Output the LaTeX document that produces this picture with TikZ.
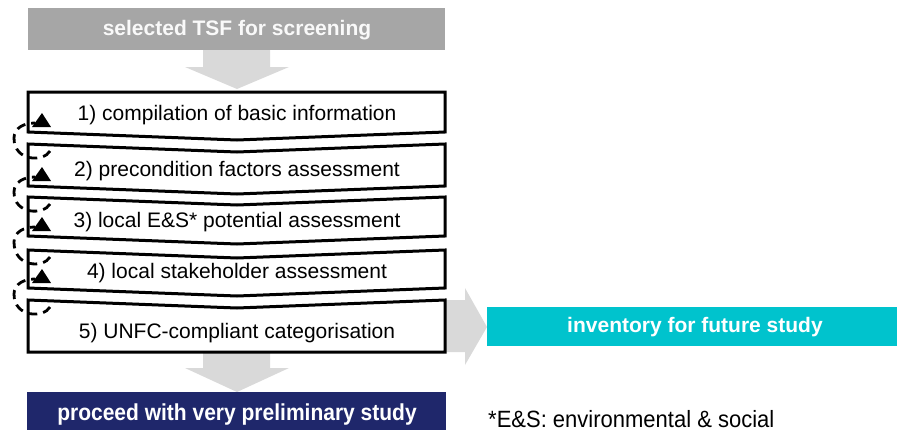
\documentclass[tikz,border=0pt]{standalone}
\usepackage{fontspec}
\setmainfont{Liberation Sans}
\definecolor{topgray}{HTML}{A6A6A6}
\definecolor{arrowgray}{HTML}{D9D9D9}
\definecolor{tealbox}{HTML}{00C3CD}
\definecolor{navybox}{HTML}{1F276B}
\tikzset{
  chev/.style={draw=black, line width=3pt, fill=white, line join=miter},
  steptext/.style={anchor=base, inner sep=0pt, font=\fontsize{21}{25}\selectfont},
  headtext/.style={anchor=base, inner sep=0pt, text=white, font=\fontsize{21}{25}\selectfont\bfseries},
  loopline/.style={line width=2.8pt, dash pattern=on 9pt off 6pt},
  bigarrow/.style={fill=arrowgray, draw=none},
}
\begin{document}
\begin{tikzpicture}[x=1pt,y=-1pt]
\useasboundingbox (0,0) rectangle (897,432);
% top box
\fill[topgray] (28,8) rectangle (445,50);
\node[headtext, text=white!95!gray] (top) at (237,35) {selected TSF for screening};
% grey block arrows
\fill[bigarrow] (203,50) -- (270,50) -- (270,67) -- (289,67) -- (237,89) -- (185,67) -- (203,67) -- cycle;
\fill[bigarrow] (440,300) -- (465,300) -- (465,288) -- (487,327) -- (465,365) -- (465,352) -- (440,352) -- cycle;
\fill[bigarrow] (203,352) -- (270,352) -- (270,368) -- (289,368) -- (237,392) -- (185,368) -- (203,368) -- cycle;
% chevron steps
\draw[chev] (28,92) -- (445,92) -- (445,132) -- (237,140) -- (28,132) -- cycle;
\draw[chev] (28,144) -- (237,152) -- (445,144) -- (445,186) -- (237,194) -- (28,186) -- cycle;
\draw[chev] (28,197) -- (237,205) -- (445,197) -- (445,236) -- (237,244) -- (28,236) -- cycle;
\draw[chev] (28,250) -- (237,258) -- (445,250) -- (445,288) -- (237,296) -- (28,288) -- cycle;
\draw[chev] (28,300) -- (237,308) -- (445,300) -- (445,352) -- (28,352) -- cycle;
\node[steptext] (s1) at (237,120) {1) compilation of basic information};
\node[steptext] (s2) at (237,176) {2) precondition factors assessment};
\node[steptext] (s3) at (237,227) {3) local E\&S* potential assessment};
\node[steptext] (s4) at (237,278) {4) local stakeholder assessment};
\node[steptext] (s5) at (237,338) {5) UNFC-compliant categorisation};
% feedback loops
\foreach \k/\yb/\ys in {1/132/151, 2/186/204, 3/236/257, 4/288/307} {
  \coordinate (ls\k) at (50,\ys);
  \coordinate (le\k) at (35,\yb-9);
  \draw[loopline] (ls\k) .. controls (44,\ys+11) and (14,\ys+11) .. (14,\yb+6)
                         .. controls (14,\yb-4) and (24,\yb-9) .. (le\k);
  \fill (42,\yb-19) -- (51,\yb-5) -- (32,\yb-5) -- cycle;
}
% outcome boxes
\fill[tealbox] (487,307) rectangle (897,346);
\node[headtext] (inv) at (695,332) {inventory for future study};
\fill[navybox] (27,392) rectangle (446,430);
\node[headtext] (pro) at (237,420) {\scalebox{1}[1.1]{proceed with very preliminary study}};
\node[steptext, anchor=base west, font=\fontsize{22}{26}\selectfont] (fn) at (488,427) {\scalebox{1}[1.07]{*E\&S: environmental \& social}};
\end{tikzpicture}
\end{document}
